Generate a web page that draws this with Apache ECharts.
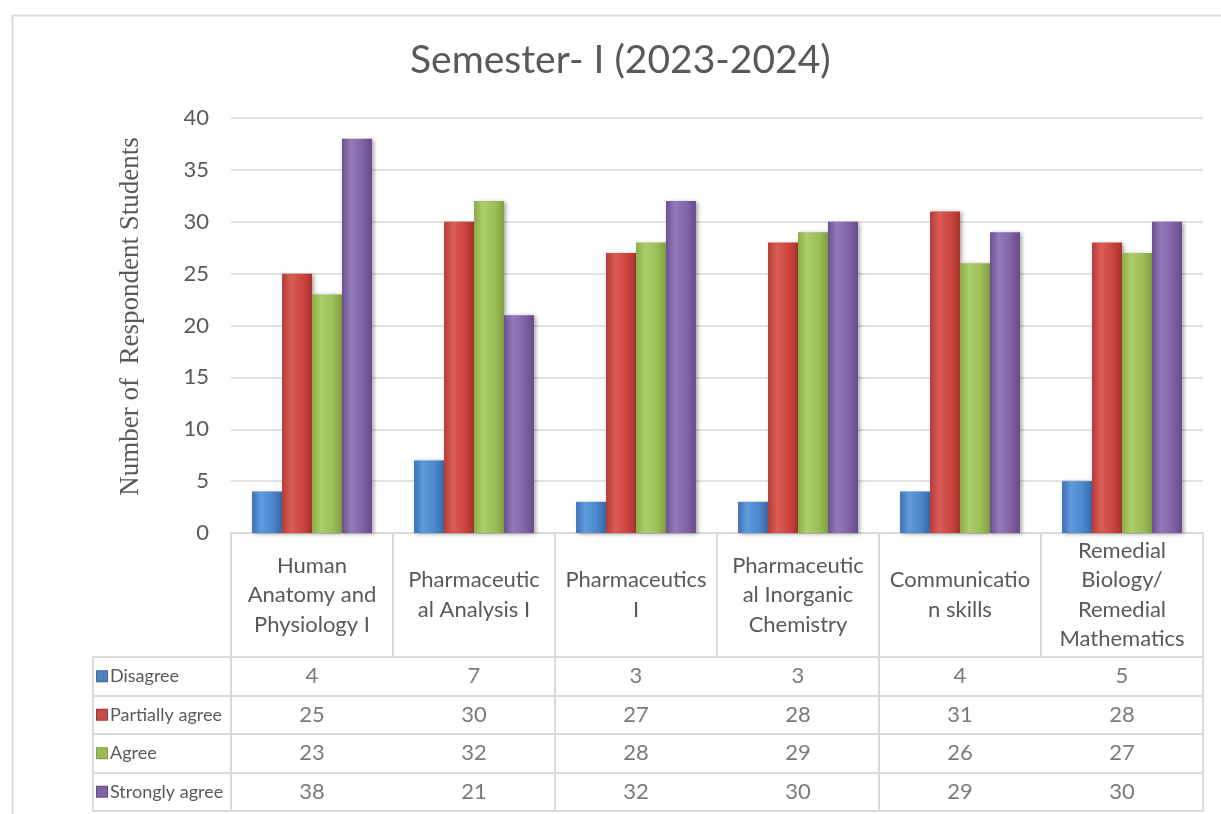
<!DOCTYPE html>
<html><head><meta charset="utf-8">
<script src="https://cdn.jsdelivr.net/npm/echarts@6/dist/echarts.min.js"></script>
<style>html,body{margin:0;padding:0;background:#fff}#c{width:1221px;height:814px}</style>
</head><body><div id="c"></div>
<script>
const titleText = 'Semester- I (2023-2024)';
const yAxisName = 'Number of  Respondent Students';
const categories = ['Human Anatomy and Physiology I', 'Pharmaceutical Analysis I', 'Pharmaceutics I', 'Pharmaceutical Inorganic Chemistry', 'Communication skills', 'Remedial Biology/ Remedial Mathematics'];
const categoryLabels = ['Human\nAnatomy and\nPhysiology I', 'Pharmaceutic\nal Analysis I', 'Pharmaceutics\nI', 'Pharmaceutic\nal Inorganic\nChemistry', 'Communicatio\nn skills', 'Remedial\nBiology/\nRemedial\nMathematics'];
const seriesNames = ['Disagree', 'Partially agree', 'Agree', 'Strongly agree'];
const disagree = [4, 7, 3, 3, 4, 5];
const partiallyAgree = [25, 30, 27, 28, 31, 28];
const agree = [23, 32, 28, 29, 26, 27];
const stronglyAgree = [38, 21, 32, 30, 29, 30];
const yMin = 0, yMax = 40, yStep = 5;

const values = [disagree, partiallyAgree, agree, stronglyAgree];
const baseColors = ['#4F81BD', '#C0504D', '#9BBB59', '#8064A2'];
const gradStops = [
  ['#3d72b4', '#609ade', '#4a87cc', '#3a69a4'],
  ['#b53a36', '#da5c57', '#cc443f', '#a8322f'],
  ['#8aad46', '#acce6a', '#9cbe55', '#82a040'],
  ['#6d5192', '#927ab8', '#7f63a6', '#654a88']
];
const FONT = 'Lato';
const GRAY = '#595959';
const LINE = '#d9d9d9';

function grad(k) {
  const s = gradStops[k];
  return new echarts.graphic.LinearGradient(0, 0, 1, 0, [
    {offset: 0, color: s[0]}, {offset: 0.3, color: s[1]}, {offset: 0.7, color: s[2]}, {offset: 1, color: s[3]}
  ]);
}

const rich = {t: {fontFamily: FONT, fontSize: 18, color: GRAY, padding: [0, 0, 0, 3]}};
baseColors.forEach((c, k) => {
  rich['k' + k] = {width: 10, height: 10, backgroundColor: c, borderColor: gradStops[k][3], borderWidth: 1};
});

const barSeries = values.map((arr, k) => ({
  type: 'bar', name: seriesNames[k], xAxisIndex: 0, yAxisIndex: 0,
  data: arr, barGap: '0%', barCategoryGap: '26%',
  itemStyle: {color: grad(k), shadowBlur: 4, shadowOffsetX: 2, shadowOffsetY: 1, shadowColor: 'rgba(0,0,0,0.35)'}
}));

const tableSeries = values.map((arr, k) => ({
  type: 'scatter', name: seriesNames[k] + ' (table)', xAxisIndex: 1, yAxisIndex: 1,
  symbolSize: 1, itemStyle: {color: 'rgba(0,0,0,0)'}, silent: true,
  data: arr.map((v, i) => [categories[i], seriesNames[k], v]),
  label: {show: true, position: 'inside', formatter: p => String(p.value[2]), fontFamily: FONT, fontSize: 22, color: GRAY}
}));

const chart = echarts.init(document.getElementById('c'));
chart.setOption({
  animation: false,
  backgroundColor: '#fff',
  title: {text: titleText, left: 405, top: 36, textStyle: {fontFamily: FONT, fontSize: 39, fontWeight: 'normal', color: GRAY}},
  graphic: [{type: 'rect', left: 10, top: 13, z: -10, shape: {width: 1260, height: 840}, style: {fill: 'none', stroke: LINE, lineWidth: 2}}],
  grid: [
    {left: 231, right: 18, top: 118, height: 415},
    {left: 231, right: 18, top: 657, height: 154}
  ],
  xAxis: [
    {type: 'category', gridIndex: 0, data: categories,
     axisLine: {show: true, lineStyle: {color: LINE, width: 2}},
     axisTick: {show: true, length: 124, lineStyle: {color: LINE, width: 2}},
     axisLabel: {interval: 0, formatter: (v, i) => categoryLabels[i], margin: 62, verticalAlign: 'middle', lineHeight: 29.5, fontFamily: FONT, fontSize: 22, color: GRAY}},
    {type: 'category', gridIndex: 1, data: categories, position: 'top',
     axisLine: {show: false}, axisTick: {show: false}, axisLabel: {show: false},
     splitLine: {show: true, lineStyle: {color: LINE, width: 2}}}
  ],
  yAxis: [
    {type: 'value', gridIndex: 0, min: yMin, max: yMax, interval: yStep,
     name: yAxisName, nameLocation: 'middle', nameGap: 87,
     nameTextStyle: {fontFamily: 'Liberation Serif', fontSize: 27, color: GRAY, padding: [0, 0, 0, 18]},
     axisLine: {show: false}, axisTick: {show: false},
     splitLine: {lineStyle: {color: LINE, width: 1.5}},
     axisLabel: {margin: 22, fontFamily: FONT, fontSize: 22, color: GRAY}},
    {type: 'category', gridIndex: 1, data: seriesNames, inverse: true,
     axisLine: {show: true, lineStyle: {color: LINE, width: 2}},
     axisTick: {show: true, length: 138, lineStyle: {color: LINE, width: 2}},
     splitLine: {show: true, lineStyle: {color: LINE, width: 2}},
     axisLabel: {align: 'left', margin: 134, formatter: (v, i) => '{k' + i + '|}{t|' + v + '}', rich: rich}},
    {type: 'category', gridIndex: 1, data: seriesNames, inverse: true, offset: 138, position: 'left',
     axisLine: {show: true, lineStyle: {color: LINE, width: 2}},
     axisTick: {show: false}, axisLabel: {show: false}, splitLine: {show: false}}
  ],
  series: barSeries.concat(tableSeries)
});
</script>
</body></html>
